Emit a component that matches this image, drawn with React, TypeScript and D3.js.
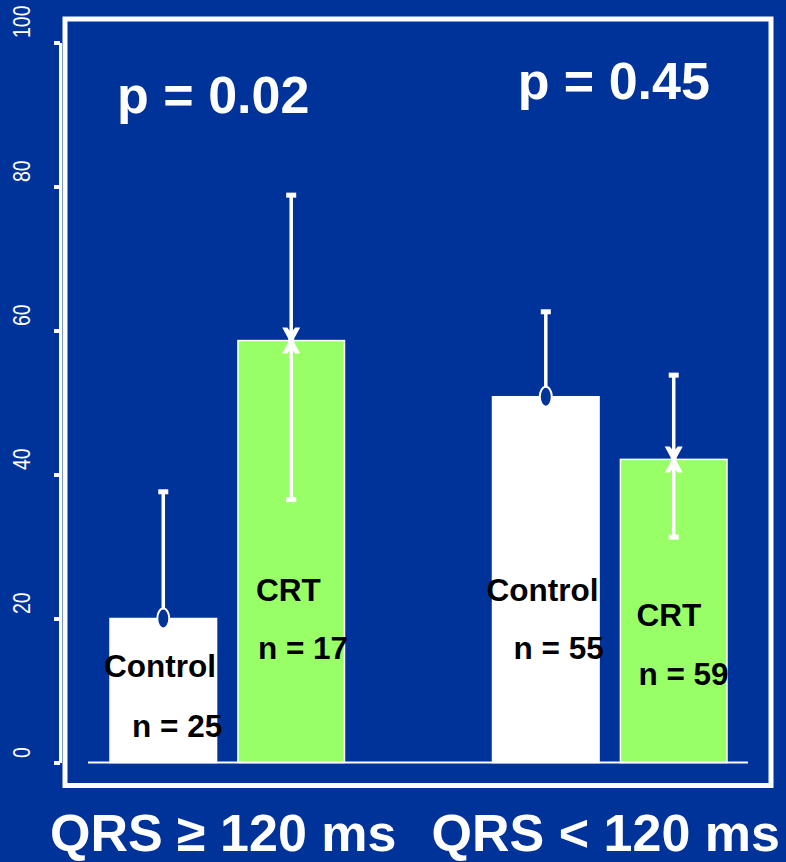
import React, { useEffect, useRef } from "react";
import * as d3 from "d3";

// data
const groups = ["QRS ≥ 120 ms", "QRS < 120 ms"];
const series = ["Control", "CRT"];
const pValues = ["p = 0.02", "p = 0.45"];
const controlMean = [20, 50.8];
const controlUpper = [37.6, 62.6];
const controlLower = [2.4, 39];
const controlN = [25, 55];
const crtMean = [58.6, 42.1];
const crtUpper = [78.8, 53.8];
const crtLower = [36.5, 31.3];
const crtN = [17, 59];
const yTicks = [0, 20, 40, 60, 80, 100];

// layout tweaks for the in-bar labels (x offset from bar left, baselines)
const labelLayout = [
  [{ dx: -6, y1: 677, dn: 22, y2: 737 }, { dx: 18, y1: 601, dn: 20, y2: 659 }],
  [{ dx: -6, y1: 601, dn: 21, y2: 659 }, { dx: 16, y1: 626, dn: 18, y2: 685 }],
];
const pLayout = [{ dx: -14, y: 113 }, { dx: 4, y: 99 }];

const BG = "#003399";
const GREEN = "#99ff66";
const FONT = "'Liberation Sans', Arial, sans-serif";

export default function App() {
  const axisRef = useRef<SVGGElement>(null);

  const y = d3.scaleLinear().domain([0, 100]).range([762.5, 42.5]);
  const x0 = d3.scaleBand().domain(groups).range([110, 727]).paddingInner(0.387).paddingOuter(0);
  const x1 = d3.scaleBand().domain(series).range([0, x0.bandwidth()]).paddingInner(0.167);

  useEffect(() => {
    document.body.style.margin = "0";
    const g = d3.select(axisRef.current);
    g.call(
      d3.axisLeft(y).tickValues(yTicks).tickSize(6).tickSizeOuter(0).tickFormat(d3.format("d")) as any
    );
    g.attr("font-family", FONT);
    g.select(".domain").attr("stroke", "#fff").attr("stroke-width", 3);
    g.selectAll(".tick line").attr("stroke", "#fff").attr("stroke-width", 4);
    g.selectAll(".tick text")
      .attr("fill", "#fff")
      .attr("font-size", 23)
      .attr("x", null)
      .attr("dy", null)
      .attr("text-anchor", "start")
      .attr("transform", "translate(-30,-5) rotate(-90) scale(0.85,1)");
  }, []);

  const bars = groups.flatMap((grp, i) =>
    series.map((s, j) => {
      const isCtl = s === "Control";
      return {
        grp,
        s,
        i,
        j,
        mean: isCtl ? controlMean[i] : crtMean[i],
        hi: isCtl ? controlUpper[i] : crtUpper[i],
        lo: isCtl ? controlLower[i] : crtLower[i],
        n: isCtl ? controlN[i] : crtN[i],
        x: (x0(grp) as number) + (x1(s) as number),
      };
    })
  );
  const bw = x1.bandwidth();

  return (
    <svg width={786} height={862} style={{ display: "block" }}>
      <rect width={786} height={862} fill={BG} />
      <rect x={65} y={19} width={706} height={766.5} fill="none" stroke="#fff" strokeWidth={5} />
      <g ref={axisRef} transform="translate(60,0)" />

      {bars.map((b) => (
        <rect
          key={b.grp + b.s}
          x={b.x}
          y={y(b.mean)}
          width={bw}
          height={y(0) - y(b.mean)}
          fill={b.s === "Control" ? "#fff" : GREEN}
          stroke="#fff"
          strokeWidth={1.5}
        />
      ))}

      <line x1={88} x2={748} y1={y(0)} y2={y(0)} stroke="#fff" strokeWidth={2} />

      {bars.map((b) => {
        const cx = b.x + bw / 2;
        const cy = y(b.mean);
        return (
          <g key={"err" + b.grp + b.s}>
            <line x1={cx} x2={cx} y1={y(b.hi)} y2={y(b.lo)} stroke="#fff" strokeWidth={3.5} />
            <rect x={cx - 5} y={y(b.hi) - 2.5} width={10} height={5} fill="#fff" />
            <rect x={cx - 5} y={y(b.lo) - 2.5} width={10} height={5} fill="#fff" />
            {b.s === "Control" ? (
              <ellipse cx={cx} cy={cy} rx={6} ry={10} fill={BG} stroke="#fff" strokeWidth={2} />
            ) : (
              <path
                transform={`translate(${cx},${cy})`}
                d="M-9,-13 L-4,-13 L0,-8 L4,-13 L9,-13 L3,-2 L3,2 L9,13 L4,13 L0,8 L-4,13 L-9,13 L-3,2 L-3,-2 Z"
                fill="#fff"
              />
            )}
          </g>
        );
      })}

      {bars.map((b) => {
        const l = labelLayout[b.i][b.j];
        return (
          <g key={"lbl" + b.grp + b.s} fontFamily={FONT} fontWeight="bold" fontSize={31.5} fill="#000">
            <text x={b.x + l.dx} y={l.y1}>{b.s}</text>
            <text x={b.x + l.dn} y={l.y2}>{`n = ${b.n}`}</text>
          </g>
        );
      })}

      {groups.map((grp, i) => (
        <text
          key={"p" + grp}
          x={(x0(grp) as number) + x0.bandwidth() / 2 + pLayout[i].dx}
          y={pLayout[i].y}
          textAnchor="middle"
          fontFamily={FONT}
          fontWeight="bold"
          fontSize={52}
          fill="#fff"
        >
          {pValues[i]}
        </text>
      ))}

      {groups.map((grp) => (
        <text
          key={"g" + grp}
          x={(x0(grp) as number) + x0.bandwidth() / 2 - 4}
          y={851}
          textAnchor="middle"
          fontFamily={FONT}
          fontWeight="bold"
          fontSize={52}
          fill="#fff"
        >
          {grp}
        </text>
      ))}
    </svg>
  );
}
